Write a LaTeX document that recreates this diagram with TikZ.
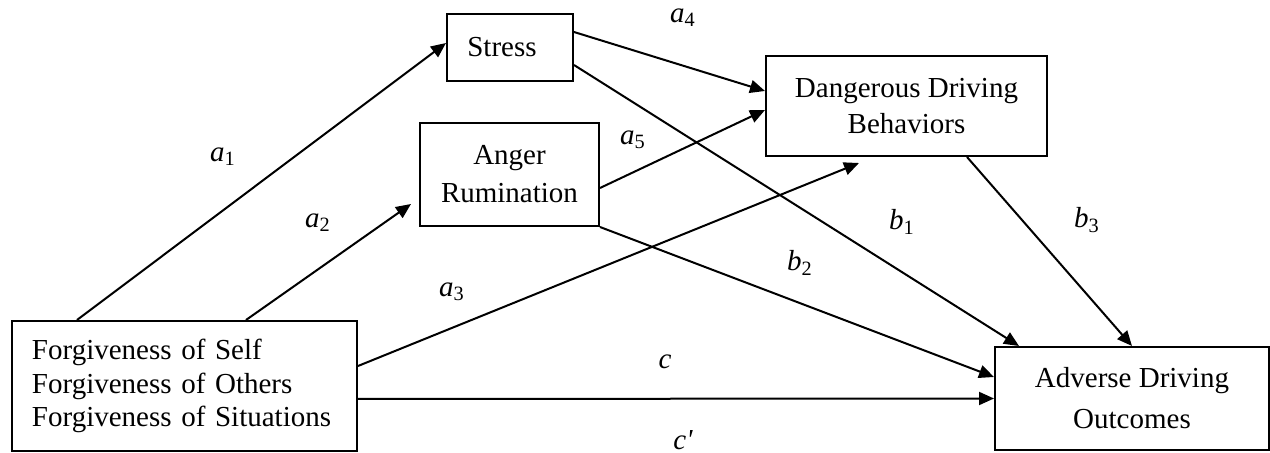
\documentclass[tikz,border=0pt]{standalone}
\usepackage{fontspec}
\setmainfont{Liberation Serif}
\newfontfamily\plainserif{Liberation Serif}[Ligatures=ResetAll]
\usetikzlibrary{arrows.meta}
\tikzset{
  boxnode/.style={draw, line width=1pt, inner sep=0pt, align=center, font=\fontsize{14.5}{18}\selectfont},
  lbl/.style={inner sep=0pt, font=\fontsize{14.5}{17}\selectfont},
  conn/.style={line width=1pt, -{Triangle[length=7.5pt,width=6.5pt]}}
}
\newcommand{\lab}[2]{\textit{#1}\textsubscript{#2}}
\begin{document}
\begin{tikzpicture}[x=0.5pt,y=-0.5pt]
\useasboundingbox (0,0) rectangle (1270,453);
% boxes
\node[boxnode, minimum width=63pt, minimum height=33.5pt] (S) at (510,47.5) {\hspace*{-8pt}Stress};
\node[boxnode, minimum width=89.5pt, minimum height=51.5pt, font=\fontsize{14.5}{19}\selectfont] (A) at (509.5,174.5) {Anger\\Rumination};
\node[boxnode, minimum width=140.5pt, minimum height=50pt] (D) at (906.5,106) {Dangerous Driving\\Behaviors};
\node[boxnode, align=left, text width=152.5pt, inner xsep=10pt, minimum height=65pt, font=\fontsize{14.5}{16.8}\selectfont] (F) at (184.5,386) {Forgiveness of Self\\Forgiveness of Others\\Forgiveness of Situations};
\node[boxnode, minimum width=137pt, minimum height=51.5pt, font=\fontsize{14.5}{20.5}\selectfont] (O) at (1132,398.5) {Adverse Driving\\Outcomes};
% connectors
\draw[conn] ([xshift=33pt]F.north west) -- ([yshift=2.25pt]S.west);
\draw[conn] ([xshift=117.5pt]F.north west) -- ([xshift=-4pt,yshift=11.5pt]A.south west);
\draw[conn] ([yshift=10pt]F.east) -- ([xshift=47pt,yshift=-3pt]D.south west);
\draw[conn] ([yshift=-6.5pt]F.east) -- (O.west);
\draw[conn] ([yshift=7.75pt]S.east) -- ([yshift=7.5pt]D.west);
\draw[conn] ([yshift=-6.75pt]A.east) -- ([yshift=-2pt]D.west);
\draw[conn] ([yshift=-8.75pt]S.east) -- ([xshift=12.5pt]O.north west);
\draw[conn] (A.south east) -- ([yshift=10.75pt]O.west);
\draw[conn] ([xshift=30.25pt]D.south) -- (O.north);
% labels
\node[lbl] (la4) at (683,18) {\lab{a}{4}};
\node[lbl] (la1) at (223,157) {\lab{a}{1}};
\node[lbl] (la5) at (633,140) {\lab{a}{5}};
\node[lbl] (la2) at (318,223) {\lab{a}{2}};
\node[lbl] (lb1) at (902,222) {\lab{b}{1}};
\node[lbl] (lb3) at (1087,220) {\lab{b}{3}};
\node[lbl] (lb2) at (800,263) {\lab{b}{2}};
\node[lbl] (la3) at (452,292) {\lab{a}{3}};
\node[lbl] (lc) at (665,362) {\textit{c}};
\node[lbl] (lcp) at (683,440) {\textit{c}{\plainserif\itshape '}};
\end{tikzpicture}
\end{document}
